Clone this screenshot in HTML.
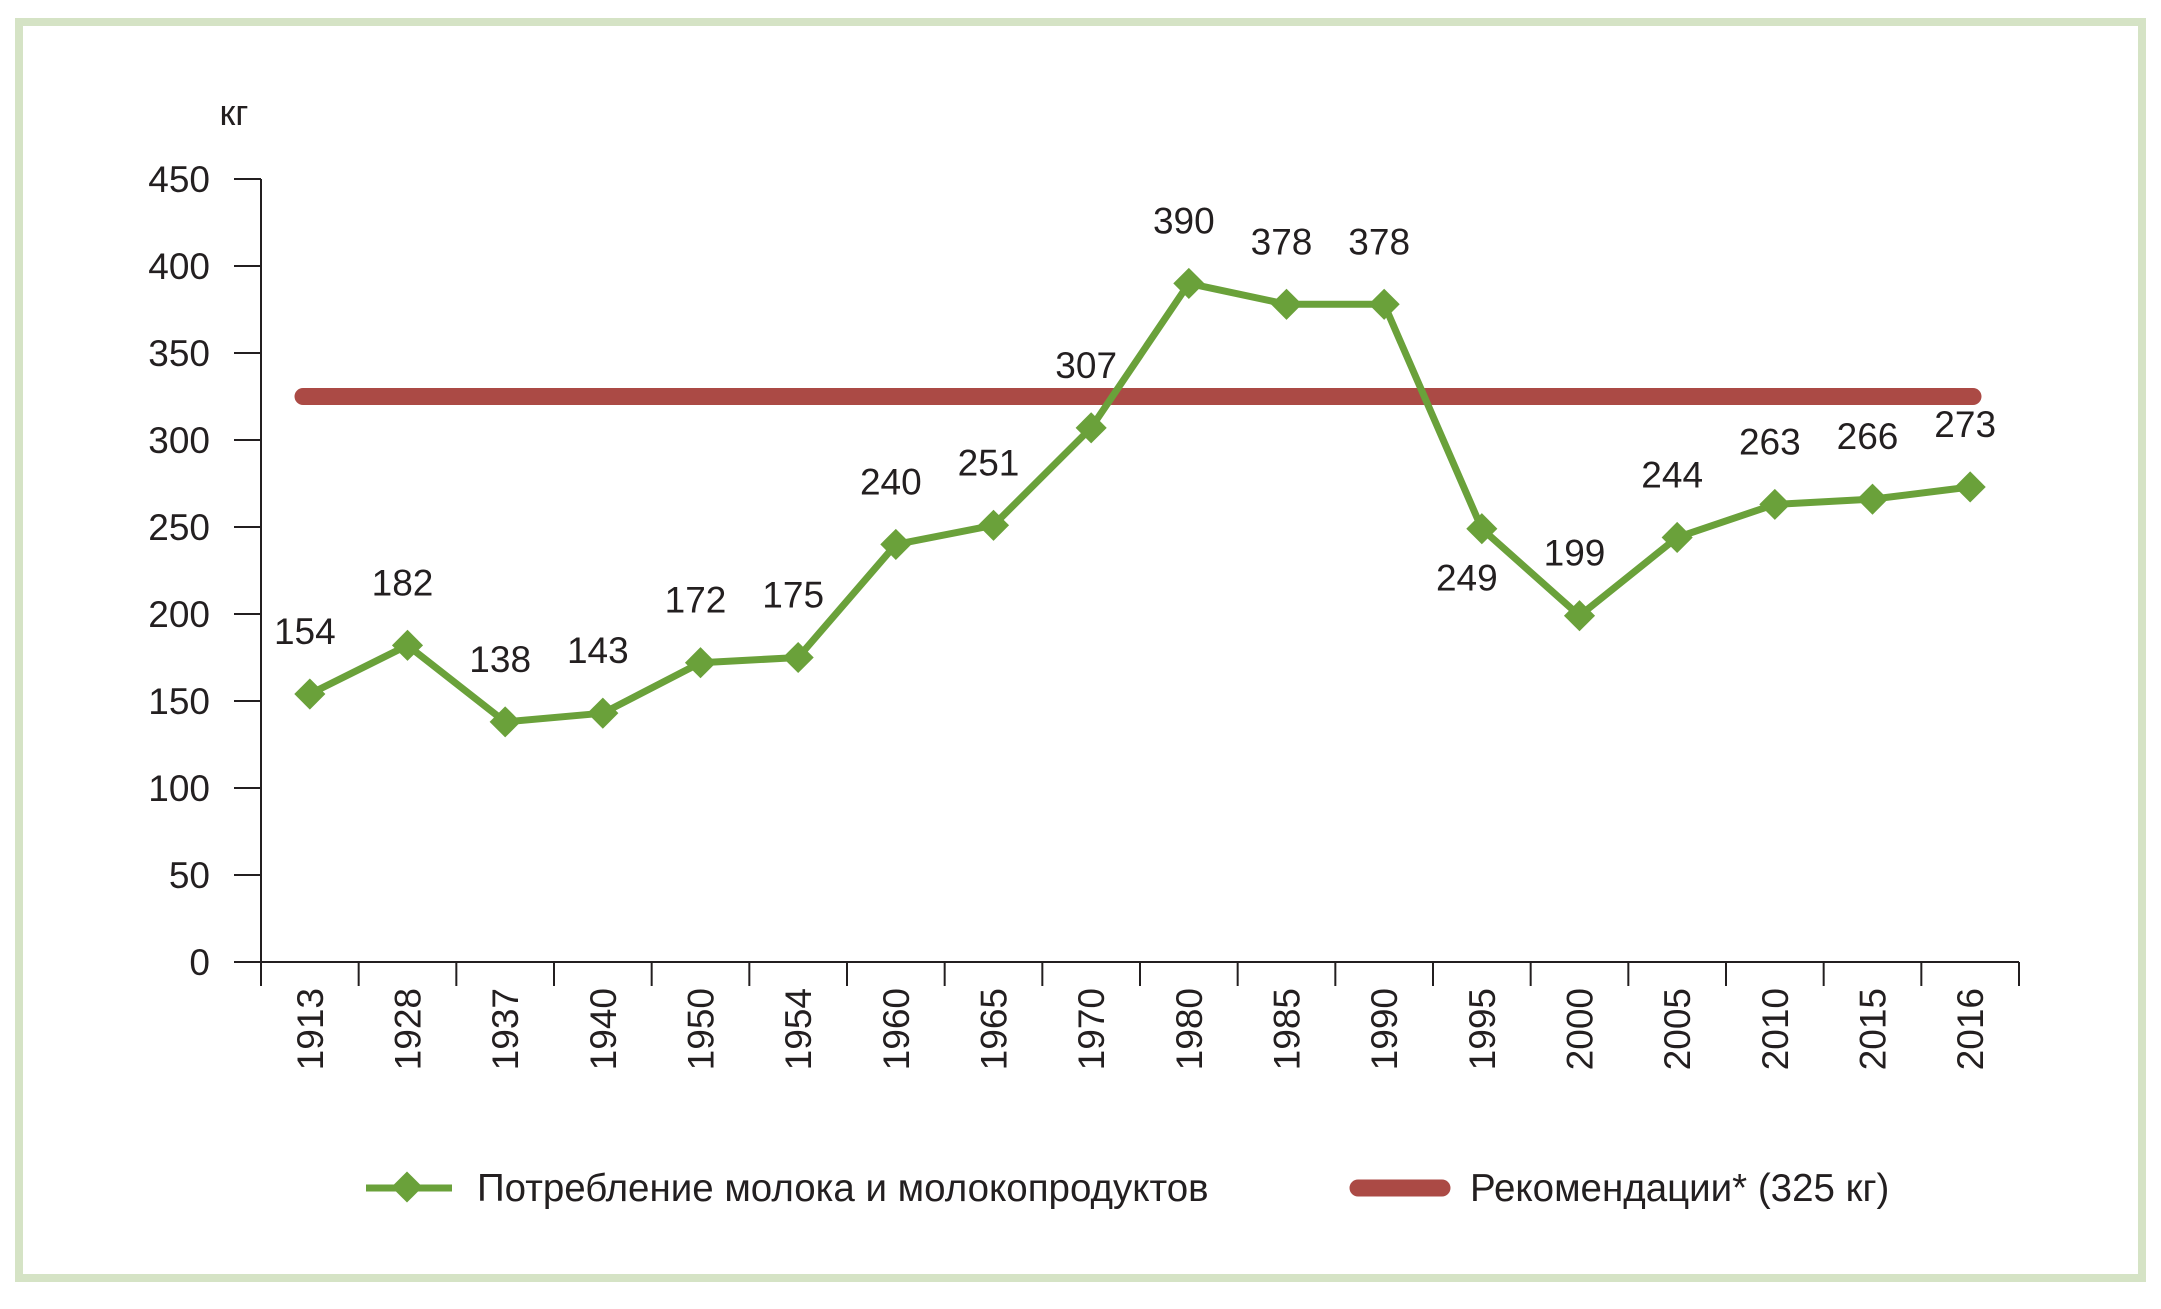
<!DOCTYPE html>
<html><head><meta charset="utf-8"><style>
body{margin:0;background:#fff;}
svg text{font-family:"Liberation Sans",sans-serif;fill:#231f20;}
</style></head><body>
<svg id="chart" width="2161" height="1304" viewBox="0 0 2161 1304" xmlns="http://www.w3.org/2000/svg">
<rect x="19" y="22" width="2123" height="1256" fill="none" stroke="#d5e3c5" stroke-width="8"/>
<text x="234" y="125" font-size="36" text-anchor="middle">кг</text>
<g id="axes"></g>
<g id="series"></g>
<g>
<line x1="366" y1="1188" x2="452" y2="1188" stroke="#6aa13a" stroke-width="7"/>
<rect x="396" y="1176" width="22" height="22" fill="#6aa13a" transform="rotate(45 407 1187)"/>
<text x="477" y="1201" font-size="38.5">Потребление молока и молокопродуктов</text>
<line x1="1358" y1="1188" x2="1442" y2="1188" stroke="#ab4a45" stroke-width="17" stroke-linecap="round"/>
<text x="1470" y="1201" font-size="38.5">Рекомендации* (325 кг)</text>
</g>
</svg>
<script>
const years = ['1913','1928','1937','1940','1950','1954','1960','1965','1970','1980','1985','1990','1995','2000','2005','2010','2015','2016'];
const milk = [154,182,138,143,172,175,240,251,307,390,378,378,249,199,244,263,266,273];
const recommended = 325;
const yTicks = [0,50,100,150,200,250,300,350,400,450];
const NS='http://www.w3.org/2000/svg';
const x0=261,x1=2019,y0=962,yTop=179;
const band=(x1-x0)/years.length;
const xs=i=>x0+band*(i+0.5);
const ys=v=>y0-(v/450)*(y0-yTop);
function mk(tag,attrs,parent,txt){const e=document.createElementNS(NS,tag);for(const k in attrs)e.setAttribute(k,attrs[k]);if(txt!==undefined)e.textContent=txt;parent.appendChild(e);return e;}
const axes=document.getElementById('axes'),ser=document.getElementById('series');
let e=mk('line',{x1:x0,y1:yTop,x2:x0,y2:y0,stroke:'#231f20','stroke-width':2},axes);


e=mk('line',{x1:x0,y1:y0,x2:x1,y2:y0,stroke:'#231f20','stroke-width':2},axes);


yTicks.forEach(t=>{
  const y=ys(t);
  let l=mk('line',{x1:234,y1:y,x2:x0,y2:y,stroke:'#231f20','stroke-width':2},axes);
  
  
  let tx=mk('text',{x:210,y:y+13,'font-size':37,'text-anchor':'end'},axes,String(t));
  
  
});
for(let i=0;i<=years.length;i++){
  const x=x0+band*i;
  let l=mk('line',{x1:x,y1:y0,x2:x,y2:986,stroke:'#231f20','stroke-width':2},axes);
  
  
}
years.forEach((yr,i)=>{
  const x=xs(i);
  let tx=mk('text',{x:0,y:0,'font-size':37,'text-anchor':'end',transform:`translate(${x+13},988) rotate(-90)`},axes,yr);
  
  
});
e=mk('line',{x1:303,y1:ys(recommended),x2:1973,y2:ys(recommended),stroke:'#ab4a45','stroke-width':17,'stroke-linecap':'round'},ser);


e=mk('polyline',{points:milk.map((v,i)=>xs(i)+','+ys(v)).join(' '),fill:'none',stroke:'#6aa13a','stroke-width':7,'stroke-linejoin':'round'},ser);


milk.forEach((v,i)=>{
  const x=xs(i),y=ys(v);
  let m=mk('rect',{x:x-11,y:y-11,width:22,height:22,fill:'#6aa13a',transform:`rotate(45 ${x} ${y})`},ser);
  
  
  const below = (years[i]==='1995');
  const ly = below ? y+62 : y-50;
  const lx = below ? x-15 : x-5;
  let t=mk('text',{x:lx,y:ly,'font-size':37,'text-anchor':'middle'},ser,String(v));
  
  
});
</script>
</body></html>
